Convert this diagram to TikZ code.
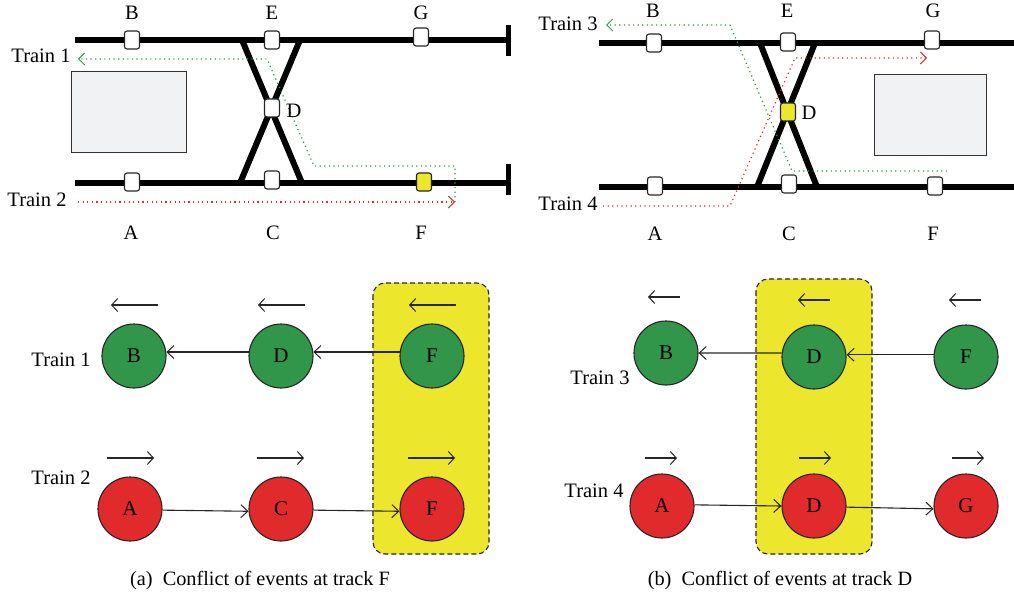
\documentclass[tikz,border=0pt]{standalone}
\usepackage{xcolor}
\usepackage{fontspec}
\setmainfont{Liberation Serif}
\usepackage{tikz}
\usetikzlibrary{arrows.meta}
\definecolor{evgreen}{HTML}{32964A}
\definecolor{evred}{HTML}{E12A2B}
\definecolor{hlyellow}{HTML}{ECE62D}
\definecolor{depotgray}{HTML}{F1F2F4}
\tikzset{
  txt/.style={draw=none,inner sep=0pt,font=\fontsize{20.5}{20.5}\selectfont},
  caption/.style={draw=none,inner sep=0pt,font=\fontsize{20.3}{20.3}\selectfont},
  rail/.style={line width=6pt},
  railend/.style={line width=5pt},
  depot/.style={draw=black!80,fill=depotgray,line width=1pt},
  switch/.style={draw=black!85,fill=white,rounded corners=2.5pt,line width=1.1pt,minimum width=15pt,minimum height=18pt,inner sep=0pt},
  dotgreen/.style={evgreen,line width=1.2pt,dash pattern=on 1.2pt off 3.4pt,-{Straight Barb[length=6pt,width=12pt,line width=1pt]}},
  dotred/.style={evred,line width=1.2pt,dash pattern=on 1.2pt off 3.4pt,-{Straight Barb[length=6pt,width=12pt,line width=1pt]}},
  event/.style={circle,draw=black!85,line width=1.1pt,minimum size=64pt,inner sep=0pt,font=\fontsize{21}{21}\selectfont},
  link/.style={black!85,line width=1.1pt,-{Straight Barb[length=7pt,width=13pt,line width=1pt]}},
  dirline/.style={black!85,line width=1.1pt,-{Straight Barb[length=6pt,width=13pt,line width=1pt]}},
  zone/.style={draw=black!85,fill=hlyellow,dash pattern=on 5pt off 3pt,line width=1.1pt,rounded corners=12pt}
}
\begin{document}
\begin{tikzpicture}[x=1pt,y=-1pt]
\useasboundingbox (0,0) rectangle (1014,599);

% panel a, tracks
\coordinate (topLa) at (75,40);
\coordinate (topRa) at (508,40);
\coordinate (lowLa) at (75,183);
\coordinate (lowRa) at (508,183);
\draw[rail] (topLa) -- (topRa);
\draw[rail] (lowLa) -- (lowRa);
\coordinate (capTa) at (508,25);
\coordinate (capUa) at (508,56);
\coordinate (capVa) at (508,164);
\coordinate (capWa) at (508,195);
\draw[railend] (capTa) -- (capUa);
\draw[railend] (capVa) -- (capWa);
\coordinate (xTLa) at (242,40);
\coordinate (xBRa) at (302,183);
\coordinate (xTRa) at (300,40);
\coordinate (xBLa) at (240,183);
\draw[rail] (xTLa) -- (xBRa);
\draw[rail] (xTRa) -- (xBLa);
\draw[depot] (71,72) rectangle (186,152);

% panel a, train paths
\coordinate (g1) at (455,202);
\coordinate (g2) at (455,166);
\coordinate (g3) at (314,166);
\coordinate (g4) at (267,59);
\coordinate (g5) at (78,59);
\draw[dotgreen] (g1) -- (g2) -- (g3) -- (g4) -- (g5);
\coordinate (r1) at (78,202);
\coordinate (r2) at (455,202);
\draw[dotred] (r1) -- (r2);

\node[switch] (swBa) at (132,40) {};
\node[switch] (swEa) at (272,40) {};
\node[switch] (swGa) at (421,37) {};
\node[switch] (swDa) at (272,108) {};
\node[switch] (swAa) at (132,182) {};
\node[switch] (swCa) at (272,180) {};
\node[switch,fill=hlyellow] (swFa) at (424,182) {};

\node[txt] (lbBa) at (132,13) {B};
\node[txt] (lbEa) at (272,13) {E};
\node[txt] (lbGa) at (421,13) {G};
\node[txt] (lbDa) at (294,111) {D};
\node[txt] (lbAa) at (131,233) {A};
\node[txt] (lbCa) at (273,233) {C};
\node[txt] (lbFa) at (421,233) {F};
\node[txt] (trOne) at (41,56) {Train 1};
\node[txt] (trTwo) at (37,200) {Train 2};

% panel b, tracks
\coordinate (topLb) at (599,43);
\coordinate (topRb) at (1014,43);
\coordinate (lowLb) at (599,187);
\coordinate (lowRb) at (1014,187);
\draw[rail] (topLb) -- (topRb);
\draw[rail] (lowLb) -- (lowRb);
\coordinate (xTLb) at (760,43);
\coordinate (xBRb) at (817,187);
\coordinate (xTRb) at (815,43);
\coordinate (xBLb) at (757,187);
\draw[rail] (xTLb) -- (xBRb);
\draw[rail] (xTRb) -- (xBLb);
\draw[depot] (874,75) rectangle (986,155);

% panel b, train paths
\coordinate (h1) at (947,171);
\coordinate (h2) at (792,171);
\coordinate (h3) at (730,25);
\coordinate (h4) at (606,25);
\draw[dotgreen] (h1) -- (h2) -- (h3) -- (h4);
\coordinate (s1) at (603,206);
\coordinate (s2) at (730,206);
\coordinate (s3) at (795,58);
\coordinate (s4) at (927,58);
\draw[dotred] (s1) -- (s2) -- (s3) -- (s4);

\node[switch] (swBb) at (654,43) {};
\node[switch] (swEb) at (788,42) {};
\node[switch] (swGb) at (932,40) {};
\node[switch,fill=hlyellow] (swDb) at (788,112) {};
\node[switch] (swAb) at (655,186) {};
\node[switch] (swCb) at (789,184) {};
\node[switch] (swFb) at (935,186) {};

\node[txt] (lbBb) at (653,11) {B};
\node[txt] (lbEb) at (787,11) {E};
\node[txt] (lbGb) at (933,11) {G};
\node[txt] (lbDb) at (809,113) {D};
\node[txt] (lbAb) at (655,234) {A};
\node[txt] (lbCb) at (789,234) {C};
\node[txt] (lbFb) at (933,234) {F};
\node[txt] (trThree) at (568,24) {Train 3};
\node[txt] (trFour) at (568,204) {Train 4};

% event graph a
\draw[zone] (373,283) rectangle (489,554);
\node[event,fill=evgreen] (evBa) at (134,356) {B};
\node[event,fill=evgreen] (evDa) at (281,356) {D};
\node[event,fill=evgreen] (evFa) at (432,356) {F};
\node[event,fill=evred] (evAa) at (130,509) {A};
\node[event,fill=evred] (evCa) at (281,509) {C};
\node[event,fill=evred] (evGa) at (432,509) {F};
\draw[link] (evFa.173) -- (evDa.7);
\draw[link] (evDa.173) -- (evBa.7);
\draw[link] (evAa.-2) -- (evCa.184);
\draw[link] (evCa.-2) -- (evGa.184);
\coordinate (d1s) at (158,305); \coordinate (d1e) at (111,305); \draw[dirline] (d1s) -- (d1e);
\coordinate (d2s) at (305,305); \coordinate (d2e) at (258,305); \draw[dirline] (d2s) -- (d2e);
\coordinate (d3s) at (456,305); \coordinate (d3e) at (409,305); \draw[dirline] (d3s) -- (d3e);
\coordinate (d4s) at (107,458); \coordinate (d4e) at (154,458); \draw[dirline] (d4s) -- (d4e);
\coordinate (d5s) at (257,458); \coordinate (d5e) at (304,458); \draw[dirline] (d5s) -- (d5e);
\coordinate (d6s) at (408,458); \coordinate (d6e) at (455,458); \draw[dirline] (d6s) -- (d6e);
\node[txt] (evTrOne) at (61,360) {Train 1};
\node[txt] (evTrTwo) at (61,478) {Train 2};
\node[caption] (capA) at (260,581) {(a)\enspace Conflict of events at track F};

% event graph b
\draw[zone] (756,279) rectangle (872,554);
\node[event,fill=evgreen] (evBb) at (666,353) {B};
\node[event,fill=evgreen] (evDb) at (814,357) {D};
\node[event,fill=evgreen] (evFb) at (966,357) {F};
\node[event,fill=evred] (evAb) at (662,506) {A};
\node[event,fill=evred] (evMb) at (814,506) {D};
\node[event,fill=evred] (evGb) at (966,506) {G};
\draw[link] (evFb.176) -- (evDb.4);
\draw[link] (evDb.173) -- (evBb.0);
\draw[link] (evAb.2) -- (evMb.180);
\draw[link] (evMb.-2) -- (evGb.185);
\coordinate (e1s) at (680,297); \coordinate (e1e) at (648,297); \draw[dirline] (e1s) -- (e1e);
\coordinate (e2s) at (830,300); \coordinate (e2e) at (798,300); \draw[dirline] (e2s) -- (e2e);
\coordinate (e3s) at (981,300); \coordinate (e3e) at (949,300); \draw[dirline] (e3s) -- (e3e);
\coordinate (e4s) at (645,458); \coordinate (e4e) at (677,458); \draw[dirline] (e4s) -- (e4e);
\coordinate (e5s) at (799,458); \coordinate (e5e) at (831,458); \draw[dirline] (e5s) -- (e5e);
\coordinate (e6s) at (952,458); \coordinate (e6e) at (984,458); \draw[dirline] (e6s) -- (e6e);
\node[txt] (evTrThree) at (600,378) {Train 3};
\node[txt] (evTrFour) at (594,491) {Train 4};
\node[caption] (capB) at (780,581) {(b)\enspace Conflict of events at track D};
\end{tikzpicture}
\end{document}
